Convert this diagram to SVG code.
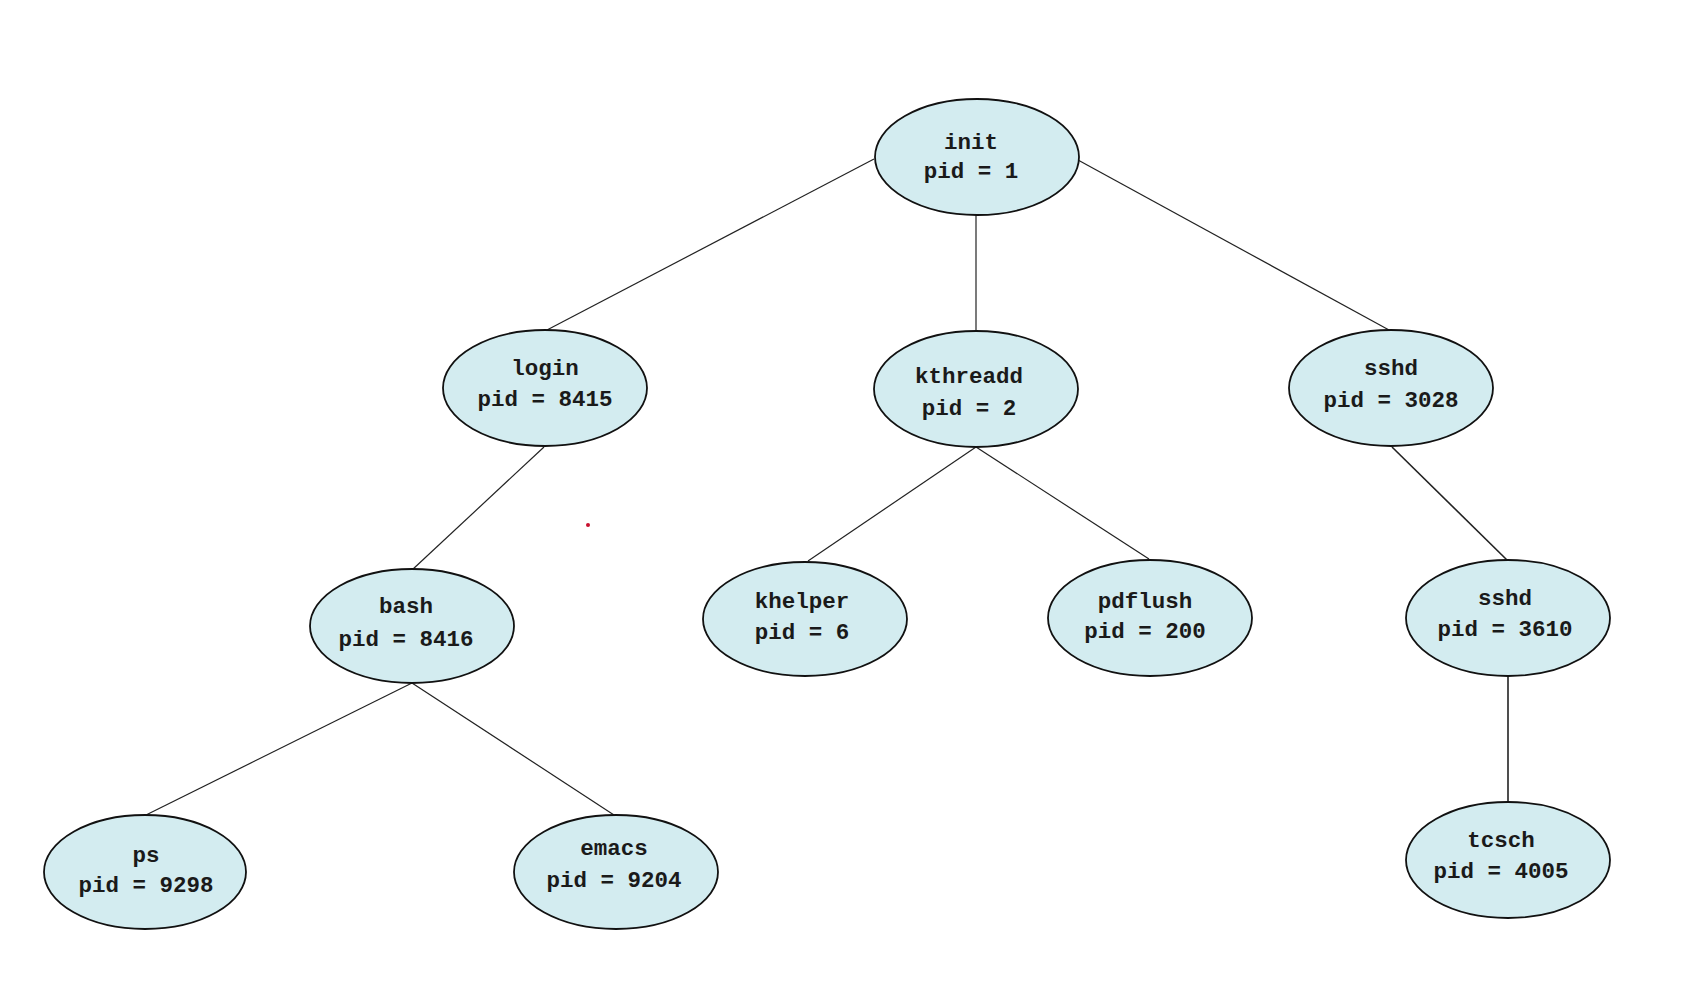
<svg xmlns="http://www.w3.org/2000/svg" width="1696" height="991" viewBox="0 0 1696 991">
<style>
.node ellipse{fill:#d3ecf0;stroke:#111;stroke-width:1.8}
.node text{font-family:"Liberation Mono","Courier New",monospace;font-weight:bold;font-size:22.5px;fill:#1a1a1a;text-anchor:middle}
.edges line{stroke:#222;stroke-width:1.2}
</style>
<rect width="1696" height="991" fill="#fff"/>
<g class="edges">
<line x1="874" y1="159" x2="547" y2="330"/>
<line x1="976" y1="214" x2="976" y2="331"/>
<line x1="1078" y1="160" x2="1389" y2="330"/>
<line x1="544" y1="447" x2="412" y2="570"/>
<line x1="976" y1="447" x2="808" y2="561"/>
<line x1="976" y1="447" x2="1149" y2="559"/>
<line x1="1392" y1="447" x2="1507" y2="560" style="stroke-width:1.6"/>
<line x1="412" y1="683" x2="146" y2="815"/>
<line x1="412" y1="683" x2="614" y2="815"/>
<line x1="1508" y1="676" x2="1508" y2="802" style="stroke-width:1.6"/>
</g>
<g id="init" class="node"><ellipse cx="977" cy="157" rx="102" ry="58"/><text x="971" y="149">init</text><text x="971" y="178">pid = 1</text></g>
<g id="login" class="node"><ellipse cx="545" cy="388" rx="102" ry="58"/><text x="545" y="375">login</text><text x="545" y="406">pid = 8415</text></g>
<g id="kthreadd" class="node"><ellipse cx="976" cy="389" rx="102" ry="58"/><text x="969" y="383">kthreadd</text><text x="969" y="415">pid = 2</text></g>
<g id="sshd3028" class="node"><ellipse cx="1391" cy="388" rx="102" ry="58"/><text x="1391" y="375">sshd</text><text x="1391" y="407">pid = 3028</text></g>
<g id="bash" class="node"><ellipse cx="412" cy="626" rx="102" ry="57"/><text x="406" y="613">bash</text><text x="406" y="646">pid = 8416</text></g>
<g id="khelper" class="node"><ellipse cx="805" cy="619" rx="102" ry="57"/><text x="802" y="608">khelper</text><text x="802" y="639">pid = 6</text></g>
<g id="pdflush" class="node"><ellipse cx="1150" cy="618" rx="102" ry="58"/><text x="1145" y="608">pdflush</text><text x="1145" y="638">pid = 200</text></g>
<g id="sshd3610" class="node"><ellipse cx="1508" cy="618" rx="102" ry="58"/><text x="1505" y="605">sshd</text><text x="1505" y="636">pid = 3610</text></g>
<g id="tcsch" class="node"><ellipse cx="1508" cy="860" rx="102" ry="58"/><text x="1501" y="847">tcsch</text><text x="1501" y="878">pid = 4005</text></g>
<g id="ps" class="node"><ellipse cx="145" cy="872" rx="101" ry="57"/><text x="146" y="862">ps</text><text x="146" y="892">pid = 9298</text></g>
<g id="emacs" class="node"><ellipse cx="616" cy="872" rx="102" ry="57"/><text x="614" y="855">emacs</text><text x="614" y="887">pid = 9204</text></g>
<circle cx="588" cy="525" r="2" fill="#c8102e"/>
</svg>
